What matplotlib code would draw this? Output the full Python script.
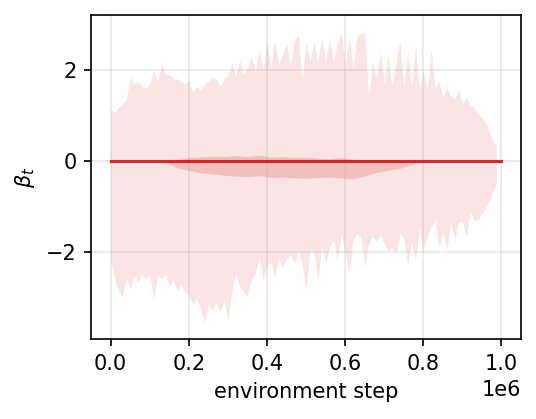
import matplotlib
matplotlib.use("Agg")
import matplotlib.pyplot as plt
import numpy as np

# band x positions (in units of 1e6 environment steps)
band_steps = [i / 100 for i in range(99)] + [0.987]

band_upper = [
    1.15, 1.08, 1.17, 1.26, 1.34, 1.85, 1.70, 1.74, 1.67, 1.59,
    1.70, 2.00, 1.74, 2.15, 1.89, 1.92, 1.81, 1.81, 1.74, 1.70,
    1.78, 1.52, 1.63, 1.56, 1.70, 1.74, 1.85, 1.81, 1.63, 1.81,
    1.89, 2.15, 1.85, 2.22, 1.90, 2.05, 2.29, 1.95, 2.44, 2.00,
    2.62, 2.05, 2.66, 2.10, 2.37, 2.59, 2.10, 2.66, 2.77, 1.78,
    2.60, 2.20, 2.62, 2.15, 2.73, 2.20, 2.70, 2.15, 2.59, 2.84,
    2.10, 2.73, 2.05, 2.73, 2.81, 2.84, 1.41, 2.22, 1.80, 2.40,
    1.70, 2.37, 1.65, 2.15, 2.66, 1.60, 2.40, 1.60, 2.55, 1.55,
    2.00, 1.55, 2.48, 1.60, 1.74, 1.40, 1.63, 1.45, 1.37, 1.56,
    1.25, 1.41, 1.20, 1.19, 1.04, 0.97, 0.83, 0.62, 0.40, 0.35,
]

band_lower = [
    -2.19, -2.59, -2.85, -3.00, -2.55, -2.81, -2.50, -2.67, -2.48, -2.59,
    -2.50, -3.05, -2.50, -2.59, -2.48, -2.74, -2.60, -2.85, -2.70, -2.88,
    -2.95, -3.14, -3.00, -3.25, -3.55, -3.15, -3.29, -3.10, -3.33, -3.05,
    -3.50, -2.88, -2.48, -2.77, -2.88, -2.96, -2.60, -2.48, -2.11, -2.63,
    -2.30, -2.22, -2.55, -2.15, -2.33, -2.15, -2.04, -2.26, -1.97, -2.25,
    -2.85, -1.93, -1.97, -2.66, -1.82, -2.26, -1.86, -1.75, -2.19, -1.60,
    -1.97, -2.48, -1.75, -1.60, -1.67, -2.33, -1.82, -1.67, -1.75, -1.60,
    -1.82, -1.97, -1.89, -2.04, -1.60, -1.67, -2.30, -1.75, -2.22, -1.45,
    -1.97, -1.67, -1.45, -1.31, -1.93, -1.53, -1.97, -1.31, -1.75, -1.34,
    -1.31, -1.67, -1.12, -1.31, -1.27, -1.16, -1.01, -0.85, -0.62, -0.50,
]

# darker inner band around the mean
inner_steps = [0.14, 0.17, 0.20, 0.23, 0.26, 0.29, 0.32, 0.35, 0.38, 0.41, 0.44, 0.47,
               0.50, 0.53, 0.56, 0.59, 0.62, 0.65, 0.68, 0.71, 0.74, 0.77, 0.79]
inner_upper = [0.0, 0.02, 0.08, 0.09, 0.11, 0.10, 0.12, 0.10, 0.13, 0.09, 0.10, 0.08,
               0.09, 0.06, 0.05, 0.08, 0.04, 0.03, 0.03, 0.02, 0.02, 0.01, 0.0]
inner_lower = [0.0, -0.15, -0.20, -0.26, -0.28, -0.31, -0.33, -0.34, -0.32, -0.36, -0.35, -0.37,
               -0.38, -0.36, -0.35, -0.37, -0.39, -0.33, -0.25, -0.20, -0.16, -0.08, 0.0]

mean_steps = [0.0, 1.0]
mean_beta = [0.0, 0.0]

scale = 1e6
fig, ax = plt.subplots(figsize=(5.36 / 1.5, 4.19 / 1.5), dpi=150)
fig.subplots_adjust(left=0.17, right=0.972, top=0.964, bottom=0.191)

ax.fill_between(np.array(band_steps) * scale, band_lower, band_upper,
                color="tab:red", alpha=0.12, linewidth=0)
ax.fill_between(np.array(inner_steps) * scale, inner_lower, inner_upper,
                color="tab:red", alpha=0.2, linewidth=0)
ax.plot(np.array(mean_steps) * scale, mean_beta, color="tab:red", linewidth=1.5)

ax.set_xlim(-0.05 * scale, 1.05 * scale)
ax.set_ylim(-3.91, 3.21)
ax.set_yticks([-2, 0, 2])
ax.grid(True, alpha=0.3)
ax.set_xlabel("environment step")
ax.set_ylabel(r"$\beta_t$")

fig.savefig("out.png", dpi=150)
